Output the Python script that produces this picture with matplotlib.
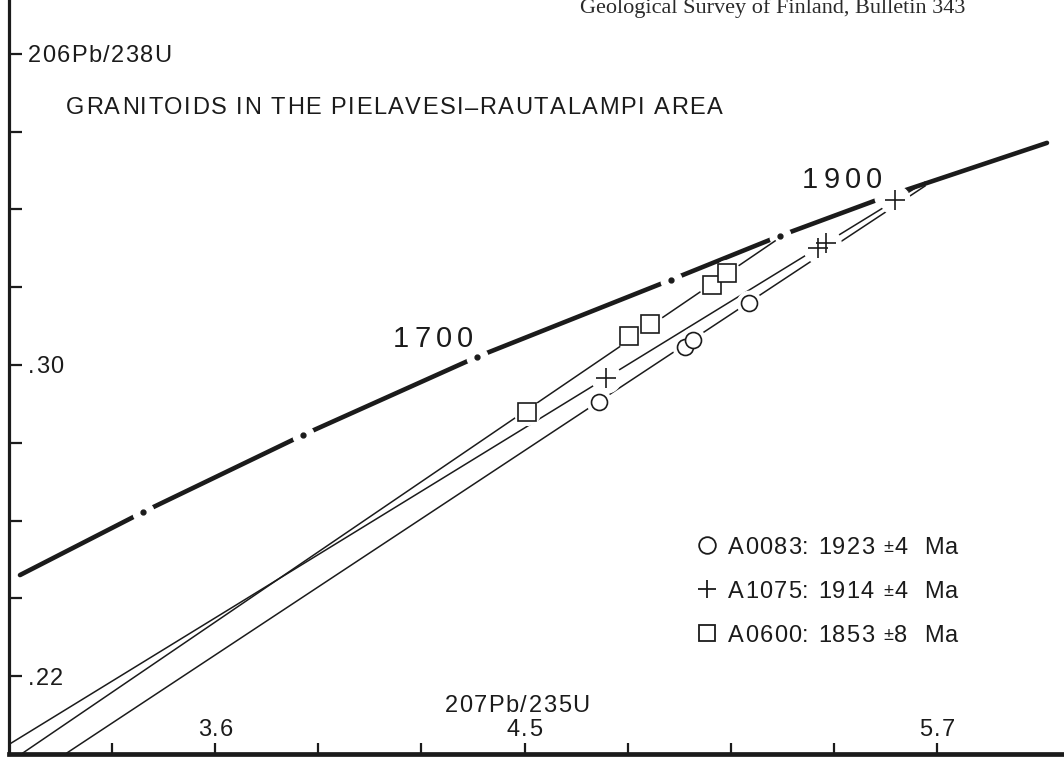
import matplotlib.pyplot as plt
from matplotlib.font_manager import FontProperties, findfont, get_font
from matplotlib.transforms import IdentityTransform

W, H = 1064, 757
INK = "#1b1b1b"
SANS = "Liberation Sans"
SERIF = "Liberation Serif"

# concordia nodes (207Pb/235U, 206Pb/238U)
concordia_x = [3.032, 3.390, 3.855, 4.362, 4.926, 5.243, 5.549, 6.020]
concordia_y = [0.2460, 0.2622, 0.2820, 0.3021, 0.3219, 0.3332, 0.3432, 0.3571]

# age marks on the concordia (Ma)
mark_ages = [1500, 1600, 1700, 1800, 1853, 1900]
mark_x = [3.390, 3.855, 4.362, 4.926, 5.243, 5.549]
mark_y = [0.2622, 0.2820, 0.3021, 0.3219, 0.3332, 0.3432]
age_labels = ["1700", "1900"]
age_label_x = [4.234, 5.424]
age_label_y = [0.3072, 0.3483]

# zircon fractions
a0083_x = [4.717, 4.967, 4.990, 5.153]
a0083_y = [0.2905, 0.3046, 0.3064, 0.3159]
a1075_x = [4.737, 5.354, 5.377, 5.578]
a1075_y = [0.2967, 0.3301, 0.3314, 0.3424]
a0600_x = [4.507, 4.804, 4.865, 5.045, 5.089]
a0600_y = [0.2879, 0.3075, 0.3105, 0.3206, 0.3237]

# discordia lines
a0083_line_x = [3.169, 5.665]
a0083_line_y = [0.2003, 0.3460]
a1075_line_x = [2.997, 5.665]
a1075_line_y = [0.2023, 0.3470]
a0600_line_x = [3.041, 5.229]
a0600_line_y = [0.2003, 0.3319]

legend_labels = ["A0083: 1923 \u00b14  Ma", "A1075: 1914 \u00b14  Ma", "A0600: 1853 \u00b18  Ma"]
legend_markers = ["o", "+", "s"]

x_ticks = [3.3, 3.6, 3.9, 4.2, 4.5, 4.8, 5.1, 5.4, 5.7]
x_labelled = [3.6, 4.5, 5.7]
y_ticks = [0.22, 0.24, 0.26, 0.28, 0.30, 0.32, 0.34, 0.36, 0.38]
y_labelled = {0.22: ".22", 0.30: ".30", 0.38: "206Pb/238U"}

fig = plt.figure(figsize=(W / 100, H / 100), dpi=100)
ax = fig.add_axes([9 / W, 3 / H, 1055 / W, 754 / H])
ax.set_xlim(3.0, 3.0 + 1055 / 343.7)
ax.set_ylim(0.20, 0.20 + 754 / 3890)


def tracked(x, y, s, size, track, ha="left", family=SANS, small=None):
    """Letter-spaced text; x, y in display pixels, y is the middle of the capitals."""
    font = get_font(findfont(FontProperties(family=family)))
    small = small or {}
    items, pen = [], 0.0
    for ch in s:
        sz = small.get(ch, size)
        font.set_size(sz, fig.dpi)
        adv = font.load_char(ord(ch)).linearHoriAdvance / 65536
        if ch != " ":
            items.append((pen, ch, sz))
        pen += adv + track
    width = pen - track
    x0 = {"left": x, "center": x - width / 2, "right": x - width}[ha]
    base = y - 0.36 * size * fig.dpi / 72
    for off, ch, sz in items:
        lift = 1.5 if sz != size else 0
        fig.text(x0 + off, base + lift, ch, transform=IdentityTransform(),
                 ha="left", va="baseline", fontsize=sz, family=family, color=INK)
    return x0 + width


def px(xd, yd):
    return ax.transData.transform((xd, yd))


for side in ("top", "right"):
    ax.spines[side].set_visible(False)
ax.spines["left"].set_linewidth(2.3)
ax.spines["bottom"].set_linewidth(3.4)
for side in ("left", "bottom"):
    ax.spines[side].set_color(INK)

ax.set_xticks(x_ticks)
ax.set_yticks(y_ticks)
ax.tick_params(axis="y", direction="in", length=9, width=1.6, color=INK, labelleft=False)
ax.tick_params(axis="x", direction="in", length=8, width=1.6, color=INK, labelbottom=False)

# tick labels sit inside the frame
for v in x_labelled:
    tracked(px(v, 0.2)[0], H - 728, f"{v:.1f}", 17, 1.2, ha="center")
tracked(517, H - 704, "207Pb/235U", 17, 1.5, ha="center")
for v, lab in y_labelled.items():
    tracked(28, px(3.0, v)[1], lab, 17, 1.3)

# concordia with gaps at the age marks
ax.plot(concordia_x, concordia_y, color=INK, lw=3.3, solid_capstyle="round", zorder=2)
ax.plot(mark_x, mark_y, ls="none", marker="o", ms=15, mfc="white", mec="white", zorder=2.5)
ax.plot(mark_x, mark_y, ls="none", marker="o", ms=3.5, mfc=INK, mec=INK, zorder=3)
for lab, x, y in zip(age_labels, age_label_x, age_label_y):
    cx, cy = px(x, y)
    tracked(cx, cy, lab, 21, 5.0, ha="center")

# discordias and data points
samples = [
    (a0083_line_x, a0083_line_y, a0083_x, a0083_y, "o", 11.5),
    (a1075_line_x, a1075_line_y, a1075_x, a1075_y, "+", 15),
    (a0600_line_x, a0600_line_y, a0600_x, a0600_y, "s", 12.5),
]
for lx, ly, sx, sy, mk, ms in samples:
    ax.plot(lx, ly, color=INK, lw=1.1, zorder=3)
    ax.plot(sx, sy, ls="none", marker="o", ms=ms + 6, mfc="white", mec="white", zorder=4)
    ax.plot(sx, sy, ls="none", marker=mk, ms=ms, mfc="white", mec=INK, mew=1.2, zorder=5)

# legend drawn as marker + text rows
for i, (lab, mk) in enumerate(zip(legend_labels, legend_markers)):
    yy = H - (545 + 44 * i)
    fig.lines.append(plt.Line2D([707], [yy], transform=IdentityTransform(), ls="none",
                                marker=mk, ms={"o": 12, "+": 13, "s": 11}[mk],
                                mfc="white", mec=INK, mew=1.3))
    tracked(728, yy, lab, 17, 1.2, small={"\u00b1": 13})

tracked(66, H - 106, "GRANITOIDS IN THE PIELAVESI\u2013RAUTALAMPI AREA", 17, 1.5)
fig.text(773, H - 13, "Geological Survey of Finland, Bulletin 343", transform=IdentityTransform(),
         ha="center", va="baseline", fontsize=16, family=SERIF, color="#2a2a2a")

fig.savefig("out.png", dpi=100, facecolor="white")
